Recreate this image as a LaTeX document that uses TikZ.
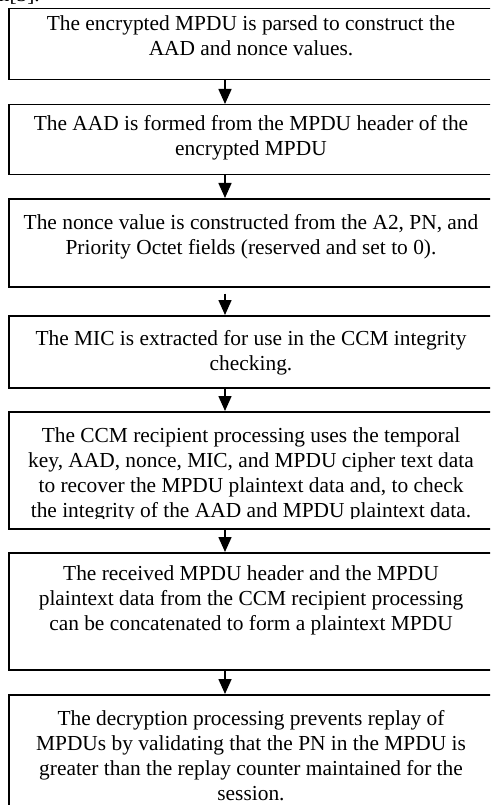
\documentclass[tikz,border=0pt]{standalone}
\usepackage{fontspec}
\setmainfont{Liberation Serif}
\usetikzlibrary{arrows.meta}
\begin{document}
\begin{tikzpicture}[x=1pt,y=1pt,
  box/.style={draw, line width=1.5pt, minimum width=486pt, inner sep=0pt, anchor=north west},
  txt/.style={align=center, inner sep=0pt, anchor=north, font=\fontsize{21.4}{25}\selectfont},
  flow/.style={-{Triangle[width=13pt,length=15pt]}, line width=1.6pt}]
\useasboundingbox (0,0) rectangle (490,-805);
\clip (0,0) rectangle (490,-805);

% tail of the preceding sentence
\node[anchor=base east, inner sep=0pt, font=\fontsize{21.4}{25}\selectfont] (prev) at (40,-2) {algorithm[3].};

% column of the connectors
\coordinate (ax) at (225,0);

% process boxes
\node[box, minimum height=71pt]  (b1) at (8,-8)   {};
\node[box, minimum height=70pt]  (b2) at (8,-104) {};
\node[box, minimum height=88pt]  (b3) at (8,-198) {};
\node[box, minimum height=72pt]  (b4) at (8,-315) {};
\node[box, minimum height=117pt] (b5) at (8,-411) {};
\node[box, minimum height=117pt] (b6) at (8,-552) {};
\node[box, minimum height=130pt] (b7) at (8,-694) {};

% box texts
\node[txt] (t1) at (251,-15.5) {The encrypted MPDU is parsed to construct the\\AAD and nonce values.};
\node[txt] (t2) at (251,-115.5) {The AAD is formed from the MPDU header of the\\encrypted MPDU};
\node[txt] (t3) at (251,-214.5) {The nonce value is constructed from the A2, PN, and\\Priority Octet fields (reserved and set to 0).};
\node[txt] (t4) at (251,-330.5) {The MIC is extracted for use in the CCM integrity\\checking.};
\begin{scope}
  \clip (10,-413) rectangle (492,-518);
  \node[txt] (t5) at (251,-427.5) {The CCM recipient processing uses the temporal\\key, AAD, nonce, MIC, and MPDU cipher text data\\to recover the MPDU plaintext data and, to check\\the integrity of the AAD and MPDU plaintext data.};
\end{scope}
\node[txt] (t6) at (251,-565.5) {The received MPDU header and the MPDU\\plaintext data from the CCM recipient processing\\can be concatenated to form a plaintext MPDU};
\node[txt] (t7) at (251,-710.5) {The decryption processing prevents replay of\\MPDUs by validating that the PN in the MPDU is\\greater than the replay counter maintained for the\\session.};

% flow arrows
\draw[flow] (b1.south -| ax) -- (b2.north -| ax);
\draw[flow] (b2.south -| ax) -- (b3.north -| ax);
\draw[flow, shorten <=6pt] (b3.south -| ax) -- (b4.north -| ax);
\draw[flow] (b4.south -| ax) -- (b5.north -| ax);
\draw[flow] (b5.south -| ax) -- (b6.north -| ax);
\draw[flow] (b6.south -| ax) -- (b7.north -| ax);
\end{tikzpicture}
\end{document}
